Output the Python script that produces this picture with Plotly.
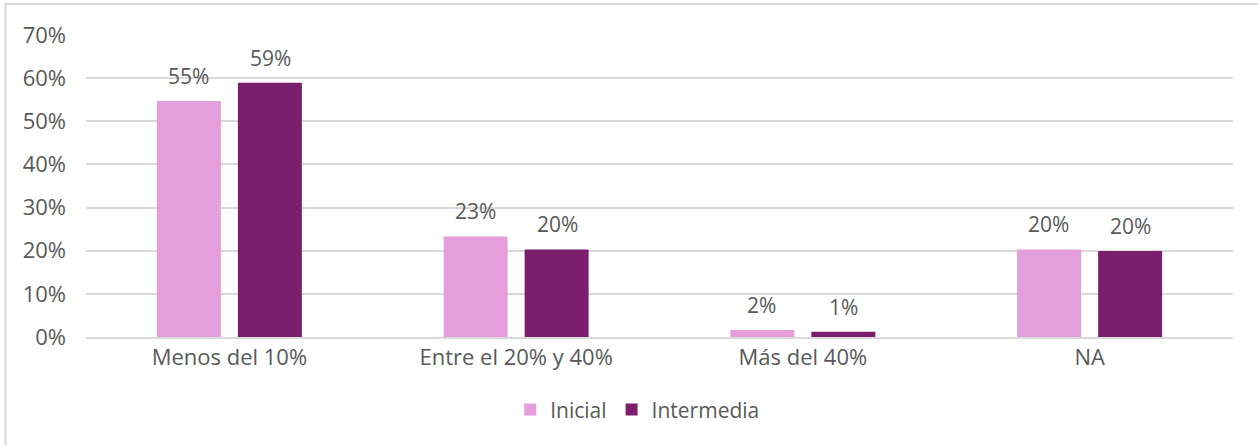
import plotly.graph_objects as go

categories = ["Menos del 10%", "Entre el 20% y 40%", "Más del 40%", "NA"]
inicial = [54.7, 23.3, 1.6, 20.3]
intermedia = [58.9, 20.3, 1.2, 19.9]
inicial_labels = ["55%", "23%", "2%", "20%"]
intermedia_labels = ["59%", "20%", "1%", "20%"]
y_ticks = [0, 10, 20, 30, 40, 50, 60, 70]
y_tick_labels = ["0%", "10%", "20%", "30%", "40%", "50%", "60%", "70%"]

C_INI = "#E49EDB"
C_INT = "#7B1F6C"
TXT = "#595959"
FONT = "Open Sans"

fig = go.Figure()
fig.add_trace(go.Bar(name="Inicial", x=categories, y=inicial, marker_color=C_INI,
                     marker_line_width=0))
fig.add_trace(go.Bar(name="Intermedia", x=categories, y=intermedia, marker_color=C_INT,
                     marker_line_width=0))

anns = []
for cat, v, lab in zip(categories, inicial, inicial_labels):
    anns.append(dict(x=cat, y=v, text=lab, showarrow=False, xshift=-41, yshift=9,
                     yanchor="bottom", font=dict(family=FONT, size=21, color=TXT)))
for cat, v, lab in zip(categories, intermedia, intermedia_labels):
    anns.append(dict(x=cat, y=v, text=lab, showarrow=False, xshift=41, yshift=9,
                     yanchor="bottom", font=dict(family=FONT, size=21, color=TXT)))

fig.update_layout(
    width=1258, height=445,
    margin=dict(l=86, r=25, t=34, b=108, autoexpand=False),
    paper_bgcolor="white", plot_bgcolor="white",
    barmode="group", bargap=0.435, bargroupgap=0.21,
    font=dict(family=FONT, size=21, color=TXT),
    annotations=anns,
    showlegend=True,
    legend=dict(orientation="h", x=0.481, xanchor="center", y=-0.173, yanchor="top",
                font=dict(family=FONT, size=21, color=TXT), itemwidth=30,
                traceorder="normal"),
    xaxis=dict(showline=True, linecolor="#D9D9D9", linewidth=2, ticks="",
               tickfont=dict(family=FONT, size=22, color=TXT)),
    yaxis=dict(range=[0, 70.2], tickvals=y_ticks, ticktext=y_tick_labels,
               showgrid=True, gridcolor="#D9D9D9", gridwidth=1.5, zeroline=False,
               ticks="", ticklabelstandoff=19,
               tickfont=dict(family=FONT, size=22, color=TXT)),
    shapes=[dict(type="rect", xref="paper", yref="paper",
                 x0=-0.0702, x1=1.03, y0=-0.37, y1=1.099,
                 line=dict(color="#D9D9D9", width=2), fillcolor="rgba(0,0,0,0)",
                 layer="below")],
)

fig.write_html("out.html", config={"displayModeBar": False},
               post_script="document.body.style.margin='0';document.body.style.overflow='hidden';")
